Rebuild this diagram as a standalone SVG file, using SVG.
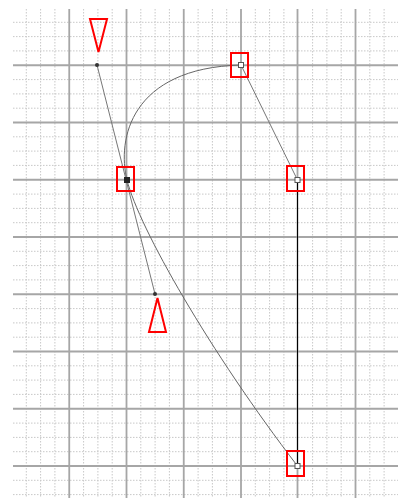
<svg xmlns="http://www.w3.org/2000/svg" width="398" height="498" viewBox="0 0 398 498">
<style>
.minor{stroke:#c8c8c8;stroke-width:1;stroke-dasharray:1.5 1.5;fill:none}
.major{stroke:#a6a6a6;stroke-width:1.8;fill:none}
.handle{stroke:#777;stroke-width:1;fill:none}
.curve{stroke:#666;stroke-width:1;fill:none}
.edge{stroke:#000;stroke-width:1;fill:none}
.sel{stroke:#f00;stroke-width:2;fill:none}
.knot{fill:#fff;stroke:#555;stroke-width:1}
.knotsel{fill:#222;stroke:#222;stroke-width:1}
.ctrl{fill:#333}
</style>
<rect width="398" height="498" fill="#fff"/>
<g id="grid">
<path class="minor" d="M26.3 9V498M40.6 9V498M54.9 9V498M83.6 9V498M97.9 9V498M112.2 9V498M140.8 9V498M155.1 9V498M169.4 9V498M198.1 9V498M212.4 9V498M226.7 9V498M255.3 9V498M269.6 9V498M283.9 9V498M312.6 9V498M326.9 9V498M341.2 9V498M369.8 9V498M384.1 9V498"/>
<path class="minor" d="M13 22.3H398M13 36.6H398M13 50.9H398M13 79.6H398M13 93.9H398M13 108.2H398M13 136.8H398M13 151.1H398M13 165.4H398M13 194.1H398M13 208.4H398M13 222.7H398M13 251.3H398M13 265.6H398M13 279.9H398M13 308.6H398M13 322.9H398M13 337.2H398M13 365.8H398M13 380.1H398M13 394.4H398M13 423.1H398M13 437.4H398M13 451.7H398M13 480.3H398M13 494.6H398"/>
<path class="major" d="M69.25 9V498M126.5 9V498M183.75 9V498M241 9V498M297.5 9V498M355.5 9V498"/>
<path class="major" d="M13 65.25H398M13 122.5H398M13 179.75H398M13 237H398M13 294.25H398M13 351.5H398M13 408.75H398M13 466H398"/>
</g>
<g id="connectors">
<path class="handle" d="M97 65L155 294"/>
<path class="handle" d="M241 65L297.5 180"/>
<path class="edge" d="M297.5 180V466"/>
<path class="curve" d="M127 180C117 140 130 68 241 65"/>
<path class="curve" d="M127 180C139 228 210 352 297.5 466"/>
</g>
<g id="ctrl-top">
<circle class="ctrl" cx="97" cy="65" r="2"/>
<polygon class="sel" points="90,19 107,19 98.5,52"/>
</g>
<g id="ctrl-bottom">
<circle class="ctrl" cx="155" cy="294" r="2"/>
<polygon class="sel" points="157.5,298 149,332 166,332"/>
</g>
<g id="node-center">
<rect class="knotsel" x="124.5" y="177.5" width="5" height="5"/>
<rect class="sel" x="117" y="167" width="17" height="24"/>
</g>
<g id="node-top">
<rect class="knot" x="238.5" y="62.5" width="5" height="5"/>
<rect class="sel" x="231" y="53" width="17" height="24"/>
</g>
<g id="node-right">
<rect class="knot" x="295" y="177.5" width="5" height="5"/>
<rect class="sel" x="287" y="166" width="17" height="25"/>
</g>
<g id="node-bottom">
<rect class="knot" x="295" y="463.5" width="5" height="5"/>
<rect class="sel" x="287" y="451" width="17" height="25"/>
</g>
</svg>
